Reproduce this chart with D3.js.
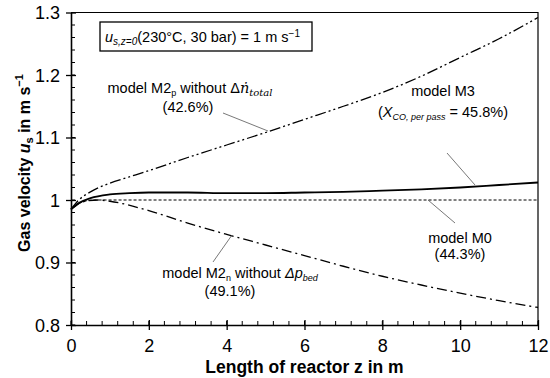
<!DOCTYPE html>
<html>
<head>
<meta charset="utf-8">
<script src="https://cdn.jsdelivr.net/npm/d3@7"></script>
<style>
  body { margin: 0; background: #fff; }
  text { font-family: Arial, "Liberation Sans", sans-serif; fill: #000; }
</style>
</head>
<body>
<div id="chart"></div>
<script>
// reactor length (m) and gas velocity (m/s) per model
const zM3 = [0, 0.2, 0.5, 1, 1.5, 2, 3, 4, 5, 6, 7, 8, 9, 10, 11, 12];
const uM3 = [0.985, 0.995, 1.003, 1.009, 1.011, 1.012, 1.012, 1.011, 1.011, 1.012, 1.013, 1.015, 1.017, 1.020, 1.024, 1.028];

const zM0 = [0, 0.3, 0.6, 1, 12];
const uM0 = [0.985, 0.997, 1.0, 1.0, 1.0];

const zM2p = [0, 0.2, 0.5, 1, 1.5, 2, 3, 4, 5, 6, 7, 8, 9, 10, 11, 12];
const uM2p = [0.985, 1.0, 1.013, 1.027, 1.037, 1.047, 1.068, 1.088, 1.108, 1.129, 1.150, 1.172, 1.198, 1.228, 1.258, 1.292];

const zM2n = [0, 0.3, 0.7, 1, 2, 3, 4, 5, 6, 7, 8, 9, 10, 11, 12];
const uM2n = [0.985, 0.997, 1.0, 0.998, 0.983, 0.963, 0.945, 0.928, 0.911, 0.894, 0.878, 0.864, 0.851, 0.839, 0.828];

const xTicks = [0, 2, 4, 6, 8, 10, 12];
const yTicks = [0.8, 0.9, 1.0, 1.1, 1.2, 1.3];

const W = 550, H = 378;
const margin = {top: 12.5, right: 12, bottom: 53, left: 71};
const width = W - margin.left - margin.right;
const height = H - margin.top - margin.bottom;

const svg = d3.select("#chart").append("svg")
    .attr("width", W)
    .attr("height", H);

const g = svg.append("g")
    .attr("transform", `translate(${margin.left}, ${margin.top})`);

const x = d3.scaleLinear().domain([0, 12]).range([0, width]);
const y = d3.scaleLinear().domain([0.8, 1.3]).range([height, 0]);

// minor ticks point inward
const xMinor = d3.range(0, 12.001, 0.4);
const yMinor = d3.range(0.8, 1.3001, 0.02);

g.append("g").selectAll("line")
    .data(xMinor)
    .enter().append("line")
    .attr("x1", d => x(d)).attr("x2", d => x(d))
    .attr("y1", height).attr("y2", height - 4)
    .attr("stroke", "#000").attr("stroke-width", 1);

g.append("g").selectAll("line")
    .data(yMinor)
    .enter().append("line")
    .attr("x1", 0).attr("x2", 4)
    .attr("y1", d => y(d)).attr("y2", d => y(d))
    .attr("stroke", "#000").attr("stroke-width", 1);

// major ticks cross the axis
const xAxis = g.append("g")
    .attr("transform", `translate(0, ${height})`)
    .call(d3.axisBottom(x).tickValues(xTicks).tickSizeInner(5).tickSizeOuter(0).tickPadding(9).tickFormat(d3.format("~g")));
xAxis.selectAll(".tick line").attr("y1", -5).attr("stroke-width", 1.3);
xAxis.selectAll("text").style("font-size", "18px");

const yAxis = g.append("g")
    .call(d3.axisLeft(y).tickValues(yTicks).tickSizeInner(5).tickSizeOuter(0).tickPadding(6).tickFormat(d3.format("~g")));
yAxis.selectAll(".tick line").attr("x1", 5).attr("stroke-width", 1.3);
yAxis.selectAll("text").style("font-size", "18px").attr("dy", "0.36em");

g.selectAll(".domain").attr("stroke", "#000").attr("stroke-width", 1.6);

// top and right frame
g.append("path")
    .attr("d", `M0,0H${width}V${height}`)
    .attr("fill", "none").attr("stroke", "#000").attr("stroke-width", 1.2);

const line = d3.line().curve(d3.curveMonotoneX)
    .x(d => x(d[0])).y(d => y(d[1]));

const series = [
  {z: zM0, u: uM0, dash: "3,2", w: 1},
  {z: zM2n, u: uM2n, dash: "10,4,2,4", w: 1.3},
  {z: zM2p, u: uM2p, dash: "11,3,2,3,2,3", w: 1.3},
  {z: zM3, u: uM3, dash: null, w: 1.8}
];

g.selectAll(".series")
    .data(series)
    .enter().append("path")
    .attr("class", "series")
    .attr("d", d => line(d.z.map((z, i) => [z, d.u[i]])))
    .attr("fill", "none")
    .attr("stroke", "#000")
    .attr("stroke-width", d => d.w)
    .attr("stroke-dasharray", d => d.dash);

// annotation box
svg.append("rect")
    .attr("x", 100).attr("y", 22).attr("width", 212).attr("height", 29)
    .attr("fill", "#fff").attr("stroke", "#000").attr("stroke-width", 1.3);
const boxText = svg.append("text").attr("x", 105).attr("y", 42).style("font-size", "14.5px");
boxText.append("tspan").style("font-style", "italic").text("u");
boxText.append("tspan").style("font-style", "italic").style("font-size", "10px").attr("dy", 3).text("s,z=0");
boxText.append("tspan").attr("dy", -3).text("(230°C, 30 bar) = 1 m s");
boxText.append("tspan").style("font-size", "10px").attr("dy", -5).text("−1");

// leader lines
const leaders = [
  [223, 113, 268, 131],
  [447, 153, 475, 185],
  [428, 200, 455, 223],
  [232, 235, 213, 262]
];
svg.append("g").selectAll("line")
    .data(leaders)
    .enter().append("line")
    .attr("x1", d => d[0]).attr("y1", d => d[1])
    .attr("x2", d => d[2]).attr("y2", d => d[3])
    .attr("stroke", "#555").attr("stroke-width", 0.8);

// labels
const lab = (xx, yy) => svg.append("text").attr("x", xx).attr("y", yy)
    .attr("text-anchor", "middle").style("font-size", "14.5px");

let t = lab(190, 93);
t.append("tspan").text("model M2");
t.append("tspan").style("font-size", "9px").attr("dy", 3).text("p");
t.append("tspan").attr("dy", -3).text(" without Δ");
t.append("tspan").style("font-family", "'DejaVu Serif', serif").style("font-style", "italic").text("ṅ");
t.append("tspan").style("font-family", "'DejaVu Serif', serif").style("font-style", "italic").style("font-size", "10px").attr("dy", 3).text("total");
lab(188, 112).text("(42.6%)");

lab(443, 96).text("model M3");
t = lab(443, 117);
t.append("tspan").text("(");
t.append("tspan").style("font-style", "italic").text("X");
t.append("tspan").style("font-style", "italic").style("font-size", "9px").attr("dy", 3).text("CO, per pass");
t.append("tspan").attr("dy", -3).text(" = 45.8%)");

lab(460, 243).text("model M0");
lab(460, 259).text("(44.3%)");

t = lab(240, 278);
t.append("tspan").text("model M2");
t.append("tspan").style("font-size", "9px").attr("dy", 3).text("n");
t.append("tspan").attr("dy", -3).text(" without ");
t.append("tspan").style("font-style", "italic").text("Δp");
t.append("tspan").style("font-style", "italic").style("font-size", "9px").attr("dy", 3).text("bed");
lab(230, 296).text("(49.1%)");

// axis titles
svg.append("text")
    .attr("x", margin.left + width / 2).attr("y", 373)
    .attr("text-anchor", "middle")
    .style("font-size", "17.5px").style("font-weight", "bold")
    .text("Length of reactor z in m");

const yt = svg.append("text")
    .attr("transform", `translate(30, ${163}) rotate(-90)`)
    .attr("text-anchor", "middle")
    .style("font-size", "16px").style("font-weight", "bold");
yt.append("tspan").text("Gas velocity ");
yt.append("tspan").style("font-style", "italic").text("u");
yt.append("tspan").style("font-size", "11px").attr("dy", 3).text("s");
yt.append("tspan").attr("dy", -3).text(" in m s");
yt.append("tspan").style("font-size", "11px").attr("dy", -7).text("−1");
</script>
</body>
</html>
